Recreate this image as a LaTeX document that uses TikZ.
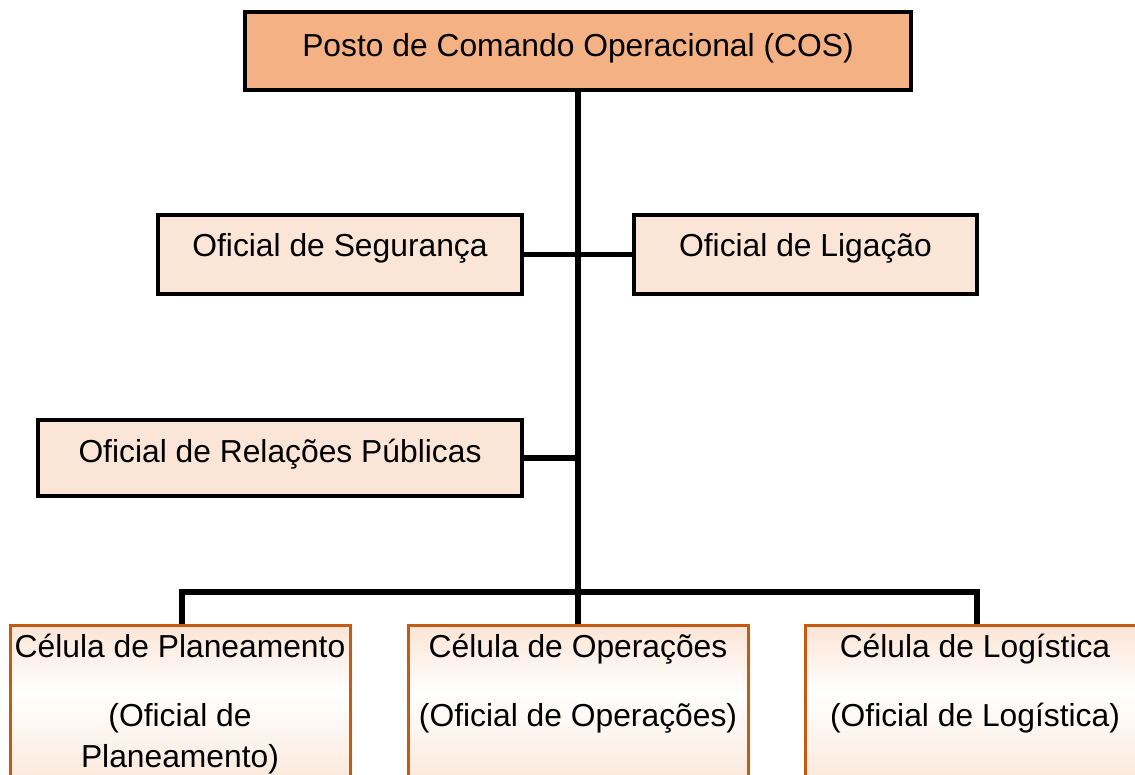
\documentclass[tikz,border=0pt]{standalone}
\usepackage{fontspec}
\setmainfont{Liberation Sans}
\usepackage{tikz}

\definecolor{cospeach}{HTML}{F4B183}
\definecolor{offpeach}{HTML}{FBE5D6}
\definecolor{celedge}{HTML}{C55A11}
\pgfdeclareverticalshading{celshade}{100bp}{color(0bp)=(offpeach); color(25bp)=(offpeach); color(55bp)=(white); color(75bp)=(offpeach); color(100bp)=(offpeach)}

\begin{document}
\begin{tikzpicture}[x=1pt, y=-1pt,
    every node/.style={font=\fontsize{31.8}{41}\selectfont},
    cosbox/.style={draw, line width=4pt, fill=cospeach, minimum width=666pt, inner ysep=0pt, text height=45pt, text depth=33pt},
    offbox/.style={draw, line width=4pt, fill=offpeach, inner ysep=0pt, text height=42pt, text depth=37pt},
    celbox/.style={draw=celedge, line width=3pt, shading=celshade, minimum width=340pt, minimum height=170pt, anchor=north},
    celtext/.style={align=center, anchor=base, inner sep=0pt},
    link/.style={line width=5.5pt}]
                    \useasboundingbox (0,0) rectangle (1135,775);
                    \clip (0,0) rectangle (1135,775);

                    \coordinate (bus) at (578,592);

                    \node[cosbox] (cos) at (578,51) {Posto de Comando Operacional (COS)};
                    \node[offbox, minimum width=364pt] (seg) at (340,254.5) {Oficial de Segurança};
                    \node[offbox, minimum width=343pt] (lig) at (805.5,254.5) {Oficial de Ligação};
                    \node[offbox, minimum width=484pt, text depth=34pt] (rel) at (280,458) {Oficial de Relações Públicas};

                    \node[celbox] (cplan) at (180,624) {};
                    \node[celbox] (cops) at (578,624) {};
                    \node[celbox] (clog) at (975,624) {};

                    % base is the last line
                    \node[celtext] (cplantxt) at ([yshift=-143pt]cplan.north) {Célula de Planeamento\\[28pt](Oficial de\\Planeamento)};
                    \node[celtext] (copstxt) at ([yshift=-102pt]cops.north) {Célula de Operações\\[28pt](Oficial de Operações)};
                    \node[celtext] (clogtxt) at ([yshift=-102pt]clog.north) {Célula de Logística\\[28pt](Oficial de Logística)};

                    % lines
                    \draw[link] (cos.south) -- (bus);
                    \draw[link] (seg.east) -- (lig.west);
                    \draw[link] (rel.east) -- (rel.east -| bus);
                    \draw[link] ([xshift=2pt]cplan.north) |- (bus) -| ([xshift=2pt]clog.north);
                    \draw[link] (bus) -- (cops.north);
                \end{tikzpicture}
\end{document}
